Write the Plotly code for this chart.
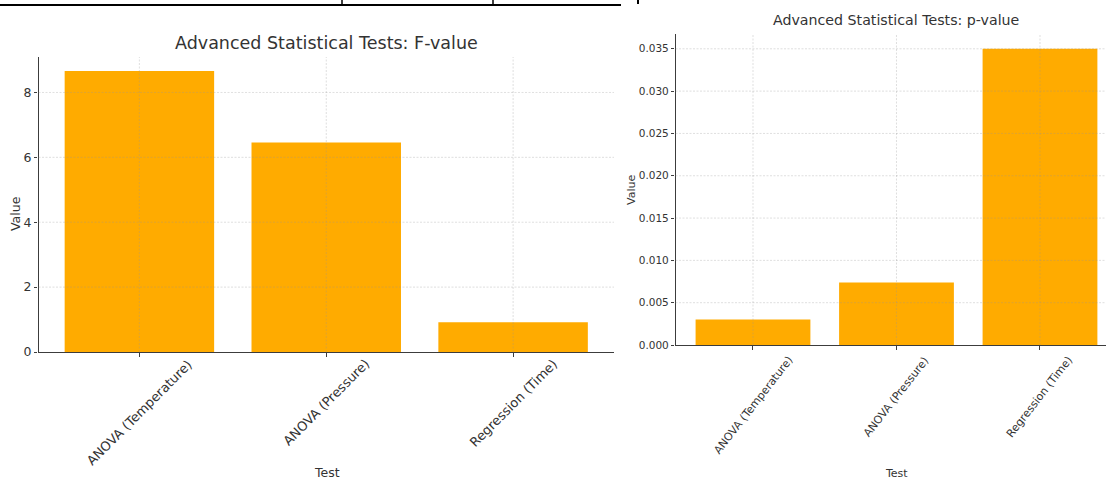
import plotly.graph_objects as go
from plotly.subplots import make_subplots

# Test results
tests = ["ANOVA (Temperature)", "ANOVA (Pressure)", "Regression (Time)"]
f_values = [8.66, 6.46, 0.92]
p_values = [0.003, 0.0074, 0.035]

# Axis ticks
f_ticks = [0, 2, 4, 6, 8]
p_ticks = [0.0, 0.005, 0.010, 0.015, 0.020, 0.025, 0.030, 0.035]

BAR = "#FFAB00"
AXIS = "#3c3c3c"
TEXT = "#333333"
GRID = "rgba(150,150,150,0.3)"
FONT = "DejaVu Sans"
W, H = 1106, 481


def px_x(p):
    return p / W


def px_y(p):
    return 1 - p / H


fig = make_subplots(rows=1, cols=2)

fig.add_trace(go.Bar(x=tests, y=f_values, marker_color=BAR, marker_line_width=0,
                     width=0.8, showlegend=False), row=1, col=1)
fig.add_trace(go.Bar(x=tests, y=p_values, marker_color=BAR, marker_line_width=0,
                     width=0.8, showlegend=False), row=1, col=2)

f_top = max(f_values) * 1.05
p_top = max(p_values) * 1.05

common_x = dict(type="category", showgrid=False, zeroline=False, showline=True,
                linecolor=AXIS, linewidth=1.2, ticks="outside", ticklen=3.5,
                tickcolor=AXIS, showticklabels=False, fixedrange=True,
                automargin=False)
common_y = dict(showgrid=False, zeroline=False, showline=True, linecolor=AXIS,
                linewidth=1.2, ticks="outside", ticklen=3.5, tickcolor=AXIS,
                tickmode="array", fixedrange=True, automargin=False)

fig.update_layout(
    width=W, height=H, autosize=False,
    margin=dict(l=0, r=0, t=0, b=0, autoexpand=False),
    paper_bgcolor="white", plot_bgcolor="white",
    font=dict(family=FONT, color=TEXT),
    bargap=0.2,
    xaxis=dict(common_x, domain=[px_x(38.5), px_x(614)], range=[-0.54, 2.54]),
    yaxis=dict(common_y, domain=[px_y(352), px_y(57)], range=[0, f_top],
               tickvals=f_ticks, ticktext=[str(t) for t in f_ticks],
               tickfont=dict(size=12.5, color=TEXT)),
    xaxis2=dict(common_x, domain=[px_x(675.5), 1.0], range=[-0.54, 2.46]),
    yaxis2=dict(common_y, domain=[px_y(345), px_y(34)], range=[0, p_top],
                tickvals=p_ticks, ticktext=[f"{t:.3f}" for t in p_ticks],
                tickfont=dict(size=10.5, color=TEXT)),
)

# Fine dotted grid drawn above the bars
shapes = []
for xr, yr, ticks in (("x", "y", f_ticks), ("x2", "y2", p_ticks)):
    for t in ticks[1:]:
        shapes.append(dict(type="line", xref=f"{xr} domain", yref=yr, x0=0, x1=1,
                           y0=t, y1=t, layer="above",
                           line=dict(color=GRID, width=1, dash="2px,1.5px")))
    for c in tests:
        shapes.append(dict(type="line", xref=xr, yref=f"{yr} domain", x0=c, x1=c,
                           y0=0, y1=1, layer="above",
                           line=dict(color=GRID, width=1, dash="2px,1.5px")))

# Page rule and column separators along the top edge
line_y = px_y(5)
shapes.append(dict(type="line", xref="paper", yref="paper", x0=0, x1=px_x(621),
                   y0=line_y, y1=line_y, line=dict(color="black", width=2.2)))
for p in (342, 493):
    shapes.append(dict(type="line", xref="paper", yref="paper", x0=px_x(p), x1=px_x(p),
                       y0=1, y1=line_y, line=dict(color="black", width=1.5)))
shapes.append(dict(type="line", xref="paper", yref="paper", x0=px_x(638), x1=px_x(638),
                   y0=1, y1=px_y(4), line=dict(color="black", width=2)))
fig.update_layout(shapes=shapes)

annotations = []
# Rotated category labels centred under each tick
for xr, yr, size, shift, angle in (("x", "y", 13, -2, -45), ("x2", "y2", 11, -6, -52)):
    for c in tests:
        annotations.append(dict(text=c, xref=xr, yref=f"{yr} domain", x=c, y=0,
                                xanchor="center", yanchor="top", yshift=shift,
                                textangle=angle, showarrow=False,
                                font=dict(size=size, color=TEXT, family=FONT)))

# Titles and axis labels
labels = [
    dict(text="Advanced Statistical Tests: F-value", x=px_x(326.5), y=px_y(43),
         font=dict(size=17.5)),
    dict(text="Advanced Statistical Tests: p-value", x=px_x(896), y=px_y(20),
         font=dict(size=14.2)),
    dict(text="Value", x=px_x(15), y=px_y(214), textangle=-90, font=dict(size=12.5)),
    dict(text="Value", x=px_x(631), y=px_y(190), textangle=-90, font=dict(size=11)),
    dict(text="Test", x=px_x(327), y=px_y(472.5), font=dict(size=12.5)),
    dict(text="Test", x=px_x(896), y=px_y(473), font=dict(size=11)),
]
for a in labels:
    a.update(xref="paper", yref="paper", xanchor="center", yanchor="middle",
             showarrow=False)
    a["font"].update(color=TEXT, family=FONT)
fig.update_layout(annotations=annotations + labels)

fig.write_html("out.html")
